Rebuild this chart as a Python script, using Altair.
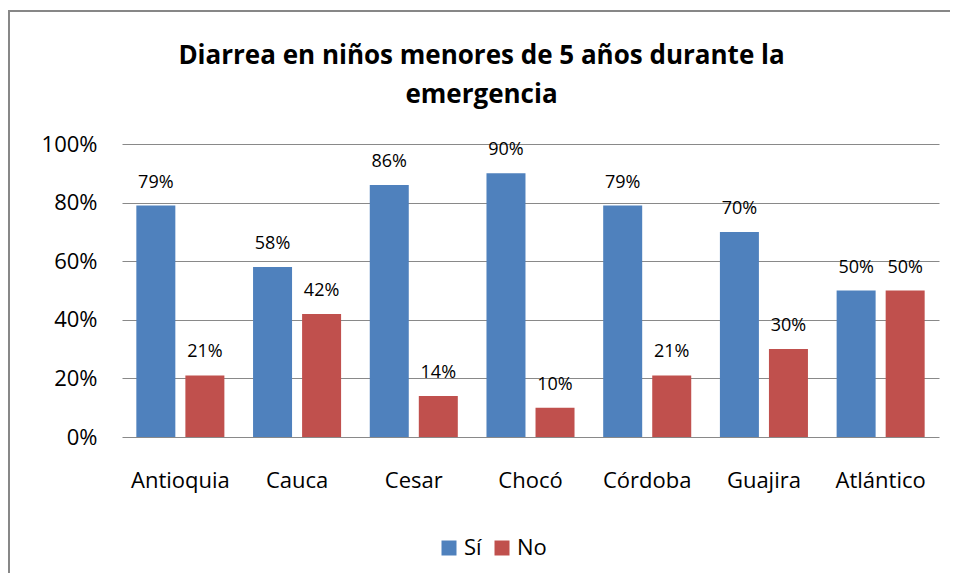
import altair as alt
import pandas as pd

categorias = ["Antioquia", "Cauca", "Cesar", "Chocó", "Córdoba", "Guajira", "Atlántico"]
si = [0.79, 0.58, 0.86, 0.90, 0.79, 0.70, 0.50]
no = [0.21, 0.42, 0.14, 0.10, 0.21, 0.30, 0.50]
series = ["Sí", "No"]
colores = ["#4F81BD", "#C0504D"]
titulo = ["Diarrea en niños menores de 5 años durante la", "emergencia"]

rows = []
for c, a, b in zip(categorias, si, no):
    rows.append({"cat": c, "serie": "Sí", "valor": a})
    rows.append({"cat": c, "serie": "No", "valor": b})
df = pd.DataFrame(rows)

FONT = "Open Sans"

x_enc = alt.X("cat:N", sort=categorias,
              scale=alt.Scale(paddingInner=0, paddingOuter=0),
              axis=alt.Axis(title=None, labelAngle=0, labelFontSize=22, labelFont=FONT,
                            labelColor="#000000", labelPadding=33, ticks=False,
                            domain=False, grid=False))
xoff = alt.XOffset("serie:N", sort=series,
                   scale=alt.Scale(paddingInner=0, paddingOuter=0.19))
y_enc = alt.Y("valor:Q", scale=alt.Scale(domain=[0, 1]),
              axis=alt.Axis(title=None, format=".0%", values=[0, 0.2, 0.4, 0.6, 0.8, 1.0],
                            labelFontSize=22, labelFont=FONT, labelColor="#000000",
                            labelPadding=25, ticks=False, domain=False,
                            gridColor="#898989", gridWidth=1))

bars = alt.Chart(df).mark_bar(size=39).encode(
    x=x_enc, xOffset=xoff, y=y_enc,
    color=alt.Color("serie:N", sort=series,
                    scale=alt.Scale(domain=series, range=colores),
                    legend=alt.Legend(title=None, orient="none", legendX=316, legendY=393,
                                      direction="horizontal", symbolType="square",
                                      symbolSize=225, symbolStrokeWidth=0,
                                      labelFontSize=22, labelFont=FONT, labelColor="#000000",
                                      labelOffset=4, columnPadding=9))
)

labels = alt.Chart(df).mark_text(baseline="alphabetic", dy=-18, fontSize=18,
                                 font=FONT, color="#000000").encode(
    x=alt.X("cat:N", sort=categorias), xOffset=alt.XOffset("serie:N", sort=series),
    y="valor:Q", text=alt.Text("valor:Q", format=".0%")
)

border_top = alt.Chart(df).mark_rule(color="#878787", strokeWidth=2).encode(
    x=alt.value(-114), x2=alt.value(828), y=alt.value(-133)
)
border_left = alt.Chart(df).mark_rule(color="#878787", strokeWidth=2).encode(
    x=alt.value(-113.5), y=alt.value(-134), y2=alt.value(440)
)

chart = alt.layer(border_top, border_left, bars, labels).properties(
    width=817, height=293,
    title=alt.TitleParams(text=titulo, fontSize=26, font=FONT, fontWeight="bold",
                          color="#000000", anchor="middle", dx=-49, offset=-99,
                          lineHeight=39),
    autosize=alt.AutoSizeParams(type="none"),
    padding={"left": 114, "top": 136, "right": 11, "bottom": 136},
).configure_view(stroke=None)

chart.save("out.html", embed_options={"renderer": "svg", "actions": False})
